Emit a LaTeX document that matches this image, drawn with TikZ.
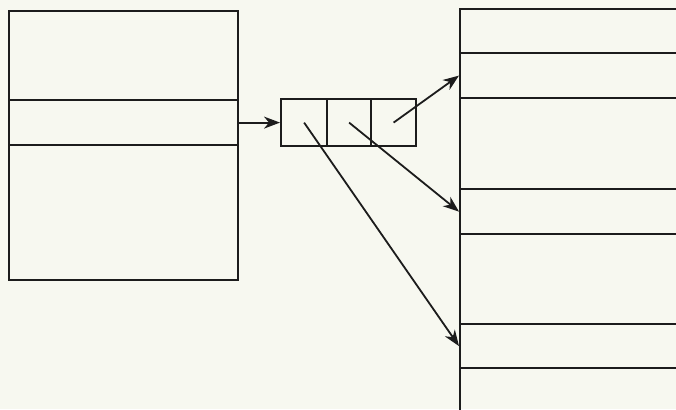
\documentclass[tikz,border=0pt]{standalone}
\usetikzlibrary{arrows.meta,positioning}
\definecolor{paper}{RGB}{247,248,240}
\definecolor{ink}{RGB}{28,28,28}
\tikzset{
  slot/.style={draw=ink,line width=2.2pt,inner sep=0pt,anchor=north west},
  ptr/.style={draw=ink,line width=1.8pt,-{Stealth[length=16pt,width=12pt,inset=5pt]}}
}
\begin{document}
\begin{tikzpicture}[x=1pt,y=-1pt]
  \useasboundingbox (0,0) rectangle (676,409);
  \fill[paper] (0,0) rectangle (676,409);
  \clip (0,0) rectangle (676,409);

  % left record
  \node[slot,minimum width=229pt,minimum height=89pt] (l1) at (8,10) {};
  \node[slot,minimum width=229pt,minimum height=45pt] (l2) at (8,99) {};
  \node[slot,minimum width=229pt,minimum height=135pt] (l3) at (8,144) {};

  % pointer cells
  \node[slot,minimum width=46pt,minimum height=47pt] (c1) at (280,98) {};
  \node[slot,minimum width=44pt,minimum height=47pt] (c2) at (326,98) {};
  \node[slot,minimum width=45pt,minimum height=47pt] (c3) at (370,98) {};

  % right table
  \foreach \n/\top/\h in {1/8/44, 2/52/45, 3/97/91, 4/188/45, 5/233/90, 6/323/44, 7/367/60} {
    \node[slot,minimum width=240pt,minimum height=\h pt] (r\n) at (459,\top) {};
  }

  % links
  \draw[ptr] (l2.east) -- (c1.west);
  \draw[ptr] (c3.center) -- (r2.west);
  \draw[ptr] (c2.center) -- (r4.west);
  \draw[ptr] (c1.center) -- (r6.west);
\end{tikzpicture}
\end{document}
